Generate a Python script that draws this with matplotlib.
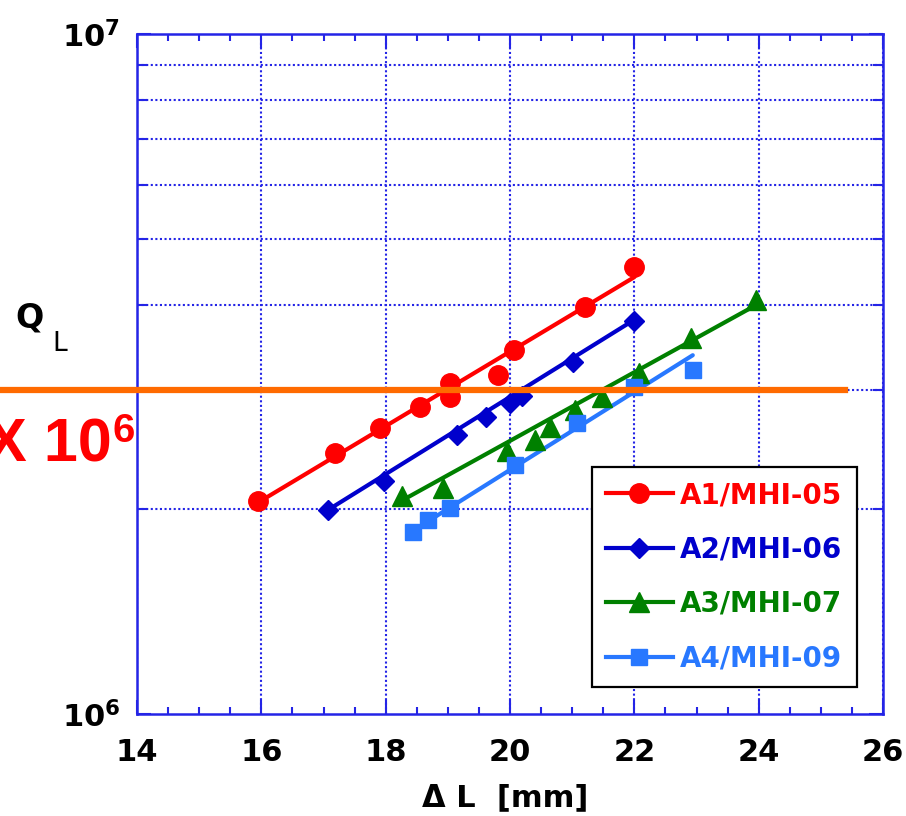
import matplotlib
matplotlib.use('Agg')
import matplotlib.pyplot as plt
from matplotlib.lines import Line2D
from matplotlib.ticker import FixedLocator, NullFormatter, MultipleLocator
import numpy as np

# ---------------- data ----------------
series_names = ['A1/MHI-05', 'A2/MHI-06', 'A3/MHI-07', 'A4/MHI-09']

a1_x = [15.95, 17.18, 17.91, 18.55, 19.03, 19.03, 19.80, 20.06, 21.20, 22.00]
a1_y = [2.06e6, 2.42e6, 2.63e6, 2.83e6, 3.07e6, 2.93e6, 3.15e6, 3.43e6, 3.97e6, 4.54e6]

a2_x = [17.07, 17.97, 19.15, 19.61, 20.00, 20.19, 21.01, 21.99]
a2_y = [1.995e6, 2.20e6, 2.57e6, 2.73e6, 2.87e6, 2.94e6, 3.29e6, 3.78e6]

a3_x = [18.26, 18.92, 19.95, 20.40, 20.64, 21.05, 21.48, 22.07, 22.91, 23.96]
a3_y = [2.09e6, 2.15e6, 2.44e6, 2.53e6, 2.64e6, 2.80e6, 2.93e6, 3.17e6, 3.57e6, 4.06e6]

a4_x = [18.44, 18.68, 19.03, 20.08, 21.08, 21.99, 22.94]
a4_y = [1.85e6, 1.93e6, 2.01e6, 2.32e6, 2.68e6, 3.03e6, 3.21e6]

# trend lines (end points)
a1_fit_x = [16.0, 22.0];  a1_fit_y = [2.06e6, 4.39e6]
a2_fit_x = [17.07, 22.0]; a2_fit_y = [1.995e6, 3.80e6]
a3_fit_x = [18.26, 23.95]; a3_fit_y = [2.06e6, 3.99e6]
a4_fit_x = [18.44, 22.94]; a4_fit_y = [1.86e6, 3.37e6]

threshold_q = 3e6

x_ticks = [14, 16, 18, 20, 22, 24, 26]
y_major = [1e6, 1e7]
y_major_labels = [r'$\mathbf{10^{6}}$', r'$\mathbf{10^{7}}$']
y_minor = [2e6, 3e6, 4e6, 5e6, 6e6, 7e6, 8e6, 9e6]

# ---------------- style ----------------
plt.rcParams['font.family'] = ['DejaVu Sans']
plt.rcParams['mathtext.fontset'] = 'dejavusans'

axis_blue = '#2424E6'
colors = ['#FF0000', '#0000CC', '#008000', '#2878FF']
markers = ['o', 'D', '^', 's']
msizes = [14, 10, 15, 11.5]

fig = plt.figure(figsize=(9.06, 8.16), dpi=100)
ax = fig.add_axes([137/906, 102/816, 746/906, 680/816])

ax.set_yscale('log')
ax.set_xlim(14, 26)
ax.set_ylim(1e6, 1e7)

xs = [a1_x, a2_x, a3_x, a4_x]
ys = [a1_y, a2_y, a3_y, a4_y]
fxs = [a1_fit_x, a2_fit_x, a3_fit_x, a4_fit_x]
fys = [a1_fit_y, a2_fit_y, a3_fit_y, a4_fit_y]

handles = []
for x, y, fx, fy, c, m, ms, name in zip(xs, ys, fxs, fys, colors, markers, msizes, series_names):
    ax.plot(fx, fy, color=c, lw=3, zorder=3, solid_capstyle='round')
    ax.plot(x, y, ls='none', marker=m, ms=ms, color=c, mec=c, zorder=4)
    handles.append(Line2D([], [], color=c, lw=3, marker=m, ms=ms, mec=c))

# ticks
ax.xaxis.set_major_locator(FixedLocator(x_ticks))
ax.xaxis.set_minor_locator(MultipleLocator(0.5))
ax.yaxis.set_major_locator(FixedLocator(y_major))
ax.yaxis.set_minor_locator(FixedLocator(y_minor))
ax.yaxis.set_minor_formatter(NullFormatter())
ax.set_yticklabels(y_major_labels)

ax.tick_params(axis='both', which='both', direction='in', top=True, right=True,
               color=axis_blue, width=1.5)
ax.tick_params(axis='x', which='major', length=10, pad=17, labelsize=22)
ax.tick_params(axis='x', which='minor', length=5)
ax.tick_params(axis='y', which='major', length=10, pad=12, labelsize=22)
ax.tick_params(axis='y', which='minor', length=7)
for lab in ax.get_xticklabels():
    lab.set_fontweight('bold')

for sp in ax.spines.values():
    sp.set_color(axis_blue)
    sp.set_linewidth(1.8)

ax.grid(True, which='major', axis='x', color=axis_blue, ls=(0, (1, 1.2)), lw=1.5, zorder=1)
ax.grid(True, which='minor', axis='y', color=axis_blue, ls=(0, (1, 1.2)), lw=1.5, zorder=1)
ax.set_axisbelow(True)

# orange threshold line extending outside the axes
ax.axhline(threshold_q, xmin=-137/746, xmax=(845-137)/746, color='#FF6A00', lw=4.5,
           clip_on=False, zorder=10)

# legend
leg = ax.legend(handles, series_names, loc='lower right', bbox_to_anchor=(0.965, 0.04),
                borderaxespad=0, handlelength=2.4, handletextpad=0.27,
                labelspacing=0.95, borderpad=0.52, fancybox=False, framealpha=1,
                edgecolor='black', prop={'weight': 'bold', 'size': 20})
leg.get_frame().set_linewidth(1.6)
for txt, c in zip(leg.get_texts(), colors):
    txt.set_color(c)

# axis labels drawn as figure text
fig.text(505/906, (816-806)/816, 'Δ L  [mm]', ha='center', va='baseline',
         fontsize=22, fontweight='bold')
fig.text(15/906, (816-327)/816, 'Q', ha='left', va='baseline', fontsize=24, fontweight='bold')
fig.text(52/906, (816-351)/816, 'L', ha='left', va='baseline', fontsize=19)

fig.text(112/906, (816-462)/816, 'X 10', ha='right', va='baseline', color='#FF0000',
         fontsize=44, fontweight='bold', family='Liberation Sans')
fig.text(112/906, (816-442)/816, '6', ha='left', va='baseline', color='#FF0000',
         fontsize=29, fontweight='bold', family='Liberation Sans')

fig.savefig('out.png', dpi=100)
